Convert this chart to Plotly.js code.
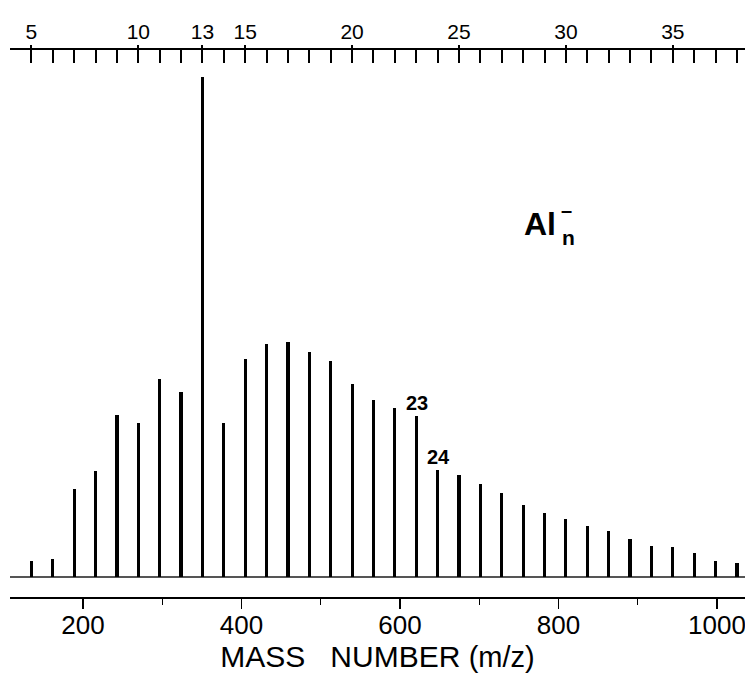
<!DOCTYPE html>
<html>
<head>
<meta charset="utf-8">
<script src="https://cdn.plot.ly/plotly-3.0.1.min.js"></script>
<style>html,body{margin:0;padding:0;background:#fff;}#chart{width:745px;height:673px;}</style>
</head>
<body>
<div id="chart"></div>
<script>
// Al atomic mass (u)
const AL_MASS = 26.98;
// cluster sizes n of Al_n^- peaks
const clusterSize = [5,6,7,8,9,10,11,12,13,14,15,16,17,18,19,20,21,22,23,24,25,26,27,28,29,30,31,32,33,34,35,36,37,38];
// relative intensities (n=13 = 100)
const intensity = [3.2,3.6,17.6,21.2,32.4,30.8,39.6,37.0,100,30.8,43.6,46.6,47.0,45.0,43.2,38.6,35.4,33.8,32.2,21.4,20.4,18.6,16.8,14.4,12.8,11.6,10.2,9.2,7.6,6.2,6.0,4.8,3.2,2.8];
// bottom axis ticks (mass number)
const massTicks = [200,400,600,800,1000];
// top axis labelled cluster sizes
const topLabels = [5,10,13,15,20,25,30,35];
// peaks labelled in the chart
const labelledPeaks = [23,24];

const masses = clusterSize.map(n => n * AL_MASS);
const xRange = [107.9, 1035.4];
const yRange = [-4, 105.5];
const FONT = 'Liberation Sans, Arial, Helvetica, sans-serif';

const trace = {
  type: 'bar',
  x: masses,
  y: intensity,
  width: 4.0,
  marker: {color: '#000', line: {width: 0}},
  xaxis: 'x', yaxis: 'y',
  hoverinfo: 'x+y'
};

const annotations = labelledPeaks.map(n => {
  const i = clusterSize.indexOf(n);
  return {
    x: masses[i], y: intensity[i], xref: 'x', yref: 'y',
    text: String(n), showarrow: false, xanchor: 'center', yanchor: 'bottom',
    yshift: 0, xshift: 1, font: {family: FONT, size: 20, color: '#000', weight: 'bold'}
  };
});
annotations.push(
  {xref: 'paper', yref: 'paper', x: 0.721, y: 0.681, text: 'Al', showarrow: false,
   xanchor: 'center', yanchor: 'middle', font: {family: FONT, size: 32, color: '#000', weight: 'bold'}},
  {xref: 'paper', yref: 'paper', x: 0.7605, y: 0.657, text: 'n', showarrow: false,
   xanchor: 'center', yanchor: 'middle', font: {family: FONT, size: 21, color: '#000', weight: 'bold'}},
  {xref: 'paper', yref: 'paper', x: 0.7565, y: 0.7075, text: '\u2013', showarrow: false,
   xanchor: 'center', yanchor: 'middle', font: {family: FONT, size: 20, color: '#000', weight: 'bold'}}
);

const topTickVals = clusterSize.map(n => n * AL_MASS);
const topTickText = clusterSize.map(n => topLabels.includes(n) ? String(n) : '');
const majorTopVals = topLabels.map(n => n * AL_MASS);

const layout = {
  width: 745, height: 673,
  margin: {l: 10, r: 0, t: 50, b: 76},
  paper_bgcolor: '#fff', plot_bgcolor: '#fff',
  showlegend: false,
  bargap: 0,
  xaxis: {
    range: xRange, showgrid: false, zeroline: false,
    showline: true, linecolor: '#000', linewidth: 2,
    ticks: 'outside', ticklen: 10, tickwidth: 1.5, tickcolor: '#000',
    tickvals: massTicks, ticktext: massTicks.map(String),
    ticklabeloverflow: 'allow',
    ticklabelstandoff: -6,
    minor: {dtick: 100, tick0: 0, ticks: 'outside', ticklen: 6, tickwidth: 1, tickcolor: '#000', showgrid: false},
    tickfont: {family: FONT, size: 26, color: '#000'},
    title: {text: 'MASS&nbsp;&nbsp; NUMBER&nbsp;<span style="font-size:29px">(m/z)</span>', font: {family: FONT, size: 30, color: '#000'}, standoff: 14},
    fixedrange: true
  },
  xaxis2: {
    overlaying: 'x', side: 'top', anchor: 'y', range: xRange,
    showgrid: false, zeroline: false, showline: true, linecolor: '#000', linewidth: 2,
    ticks: 'inside', ticklen: 13, tickwidth: 2, tickcolor: '#000',
    tickvals: topTickVals, ticktext: topTickText,
    ticklabeloverflow: 'allow',
    tickfont: {family: FONT, size: 21, color: '#000'},
    ticklabelstandoff: 1,
    fixedrange: true
  },
  xaxis3: {
    overlaying: 'x', side: 'top', anchor: 'y', range: xRange,
    showgrid: false, zeroline: false, showline: false,
    ticks: 'outside', ticklen: 4, tickwidth: 2, tickcolor: '#000',
    tickvals: majorTopVals, showticklabels: false,
    fixedrange: true
  },
  yaxis: {
    range: yRange, showgrid: false, showline: false, ticks: '',
    showticklabels: false, zeroline: true, zerolinecolor: '#555', zerolinewidth: 1.5,
    fixedrange: true
  },
  annotations: annotations
};

// invisible traces to activate top axes
const topTrace = {type: 'scatter', x: [xRange[0]], y: [0], xaxis: 'x2', yaxis: 'y', mode: 'markers', marker: {opacity: 0}, hoverinfo: 'skip'};
const topTrace3 = {type: 'scatter', x: [xRange[0]], y: [0], xaxis: 'x3', yaxis: 'y', mode: 'markers', marker: {opacity: 0}, hoverinfo: 'skip'};

Plotly.newPlot('chart', [trace, topTrace, topTrace3], layout, {displayModeBar: false, staticPlot: true});
</script>
</body>
</html>
